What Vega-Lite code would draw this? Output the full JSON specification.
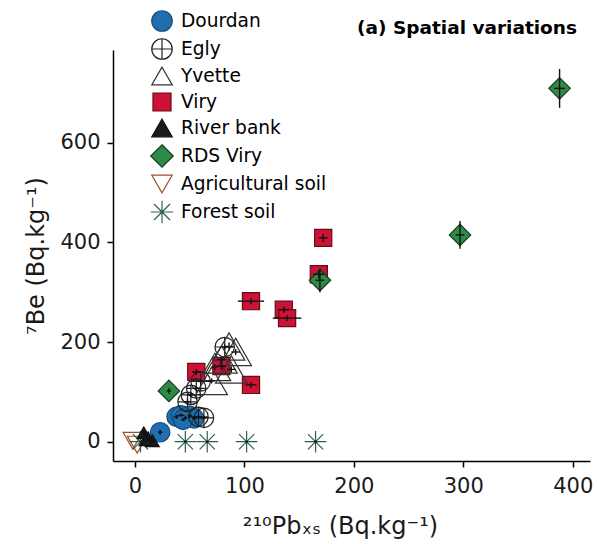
{
  "$schema": "https://vega.github.io/schema/vega-lite/v6.json",
  "width": 477,
  "height": 411,
  "autosize": {"type": "none"},
  "padding": {"left": 113, "top": 50, "right": 8, "bottom": 83},
  "background": "white",
  "title": {
    "text": "(a) Spatial variations",
    "anchor": "end",
    "frame": "group",
    "font": "DejaVu Sans",
    "fontSize": 18.5,
    "fontWeight": "bold",
    "color": "#000000",
    "baseline": "alphabetic",
    "offset": -42,
    "dx": -13
  },
  "data": {
    "values": [
      {"g": "Viry", "x": 56, "y": 140, "ex": 4, "ey": 6},
      {"g": "Viry", "x": 79, "y": 152, "ex": 4, "ey": 8},
      {"g": "Viry", "x": 106, "y": 114, "ex": 5, "ey": 6},
      {"g": "Viry", "x": 106, "y": 282, "ex": 12, "ey": 6},
      {"g": "Viry", "x": 136, "y": 265, "ex": 5, "ey": 6},
      {"g": "Viry", "x": 139, "y": 248, "ex": 13, "ey": 6},
      {"g": "Viry", "x": 168, "y": 336, "ex": 5, "ey": 8},
      {"g": "Viry", "x": 172, "y": 409, "ex": 4, "ey": 8},
      {"g": "Dourdan", "x": 23, "y": 19, "ex": 2, "ey": 5},
      {"g": "Dourdan", "x": 38, "y": 50, "ex": 2, "ey": 4},
      {"g": "Dourdan", "x": 42, "y": 53, "ex": 3, "ey": 4},
      {"g": "Dourdan", "x": 46, "y": 48, "ex": 2, "ey": 4},
      {"g": "Dourdan", "x": 50, "y": 52, "ex": 2, "ey": 4},
      {"g": "Dourdan", "x": 54, "y": 47, "ex": 2, "ey": 4},
      {"g": "Dourdan", "x": 44, "y": 44, "ex": 2, "ey": 3},
      {"g": "Egly", "x": 48, "y": 80, "ex": 3, "ey": 5},
      {"g": "Egly", "x": 51, "y": 94, "ex": 3, "ey": 5},
      {"g": "Egly", "x": 56, "y": 107, "ex": 3, "ey": 5},
      {"g": "Egly", "x": 60, "y": 121, "ex": 3, "ey": 5},
      {"g": "Egly", "x": 58, "y": 50, "ex": 3, "ey": 4},
      {"g": "Egly", "x": 63, "y": 48, "ex": 3, "ey": 4},
      {"g": "Egly", "x": 82, "y": 190, "ex": 3, "ey": 5},
      {"g": "Yvette", "x": 70, "y": 122, "ex": 3, "ey": 5},
      {"g": "Yvette", "x": 73, "y": 150, "ex": 3, "ey": 6},
      {"g": "Yvette", "x": 79, "y": 165, "ex": 4, "ey": 6},
      {"g": "Yvette", "x": 86, "y": 191, "ex": 4, "ey": 8},
      {"g": "Yvette", "x": 92, "y": 180, "ex": 4, "ey": 6},
      {"g": "Yvette", "x": 88, "y": 145, "ex": 4, "ey": 6},
      {"g": "RDS Viry", "x": 31, "y": 102, "ex": 2, "ey": 6},
      {"g": "RDS Viry", "x": 169, "y": 324, "ex": 4, "ey": 24},
      {"g": "RDS Viry", "x": 297, "y": 415, "ex": 4, "ey": 28},
      {"g": "RDS Viry", "x": 388, "y": 709, "ex": 5, "ey": 39},
      {"g": "River bank", "x": 8, "y": 18, "ex": 2, "ey": 4},
      {"g": "River bank", "x": 12, "y": 8, "ex": 2, "ey": 4},
      {"g": "River bank", "x": 16, "y": 2, "ex": 2, "ey": 4},
      {"g": "River bank", "x": 10, "y": 4, "ex": 2, "ey": 3},
      {"g": "Agricultural soil", "x": -2, "y": 2, "ex": 0, "ey": 0},
      {"g": "Agricultural soil", "x": 2, "y": -6, "ex": 0, "ey": 0},
      {"g": "Forest soil", "x": 5, "y": 0, "ex": 0, "ey": 0},
      {"g": "Forest soil", "x": 46, "y": 0, "ex": 1, "ey": 2},
      {"g": "Forest soil", "x": 66, "y": 0, "ex": 1, "ey": 2},
      {"g": "Forest soil", "x": 102, "y": 0, "ex": 1, "ey": 2},
      {"g": "Forest soil", "x": 165, "y": 0, "ex": 1, "ey": 2}
    ]
  },
  "encoding": {
    "x": {
      "field": "x",
      "type": "quantitative",
      "scale": {"domain": [-20.1, 415.8], "nice": false, "zero": false},
      "axis": {"values": [0, 100, 200, 300, 400], "title": "²¹⁰Pbₓₛ (Bq.kg⁻¹)", "titlePadding": 18, "titleX": 227}
    },
    "y": {
      "field": "y",
      "type": "quantitative",
      "scale": {"domain": [-38.7, 786], "nice": false, "zero": false},
      "axis": {"values": [0, 200, 400, 600], "title": "⁷Be (Bq.kg⁻¹)", "titlePadding": 11}
    }
  },
  "layer": [
    {
      "encoding": {
        "shape": {
          "field": "g",
          "type": "nominal",
          "scale": {
            "domain": ["Dourdan", "Egly", "Yvette", "Viry", "River bank", "RDS Viry", "Agricultural soil", "Forest soil"],
            "range": ["circle", "M-1,0A1,1,0,1,1,1,0A1,1,0,1,1,-1,0ZM-1,0L1,0M0,-1L0,1", "triangle-up", "M-0.88,-0.88L0.88,-0.88L0.88,0.88L-0.88,0.88Z", "triangle-up", "M0,-1.1L1.1,0L0,1.1L-1.1,0Z", "triangle-down", "M-1.1,0L1.1,0M0,-1.1L0,1.1M-0.78,-0.78L0.78,0.78M-0.78,0.78L0.78,-0.78"]
          },
          "legend": {"title": null, "orient": "none", "legendX": 38, "legendY": -40}
        },
        "fill": {
          "field": "g",
          "type": "nominal",
          "scale": {
            "domain": ["Dourdan", "Egly", "Yvette", "Viry", "River bank", "RDS Viry", "Agricultural soil", "Forest soil"],
            "range": ["#1f6fb0", "transparent", "transparent", "#cc1236", "#1a1a1a", "#2f8a47", "transparent", "transparent"]
          },
          "legend": {"title": null, "orient": "none", "legendX": 38, "legendY": -40}
        },
        "stroke": {
          "field": "g",
          "type": "nominal",
          "scale": {
            "domain": ["Dourdan", "Egly", "Yvette", "Viry", "River bank", "RDS Viry", "Agricultural soil", "Forest soil"],
            "range": ["#174a75", "#222222", "#333333", "#6a0a18", "#111111", "#143d20", "#a0522d", "#2f5e4e"]
          },
          "legend": {"title": null, "orient": "none", "legendX": 38, "legendY": -40}
        }
      },
      "layer": [
        {
          "transform": [{"filter": "datum.g !== 'Yvette' && datum.g !== 'River bank'"}],
          "mark": {"type": "point", "opacity": 1, "fillOpacity": 1, "strokeWidth": 1.2, "size": 380}
        },
        {
          "transform": [{"filter": "datum.g === 'Yvette'"}],
          "mark": {"type": "point", "opacity": 1, "fillOpacity": 1, "strokeWidth": 1.2, "size": 1000}
        },
        {
          "transform": [{"filter": "datum.g === 'River bank'"}],
          "mark": {"type": "point", "opacity": 1, "fillOpacity": 1, "strokeWidth": 1.2, "size": 180}
        }
      ]
    },
    {
      "mark": {"type": "errorbar", "color": "#111111", "thickness": 1.4},
      "encoding": {"yError": {"field": "ey"}}
    },
    {
      "mark": {"type": "errorbar", "color": "#111111", "thickness": 1.4},
      "encoding": {"xError": {"field": "ex"}}
    }
  ],
  "config": {
    "view": {"stroke": null},
    "axis": {
      "grid": false,
      "domainColor": "#000000",
      "domainWidth": 1.5,
      "tickColor": "#000000",
      "tickWidth": 1.5,
      "tickSize": 6,
      "labelFont": "DejaVu Sans",
      "labelFontSize": 21,
      "labelColor": "#1a1a1a",
      "titleFont": "DejaVu Sans",
      "titleFontSize": 24,
      "titleFontWeight": "normal",
      "titleColor": "#1a1a1a"
    },
    "axisX": {"labelPadding": 8},
    "axisY": {"labelPadding": 7},
    "legend": {
      "padding": 0,
      "symbolSize": 420,
      "symbolStrokeWidth": 1.2,
      "labelFont": "DejaVu Sans",
      "labelFontSize": 18.6,
      "labelColor": "#000000",
      "labelOffset": 8,
      "rowPadding": 2,
      "labelLimit": 300
    }
  }
}
